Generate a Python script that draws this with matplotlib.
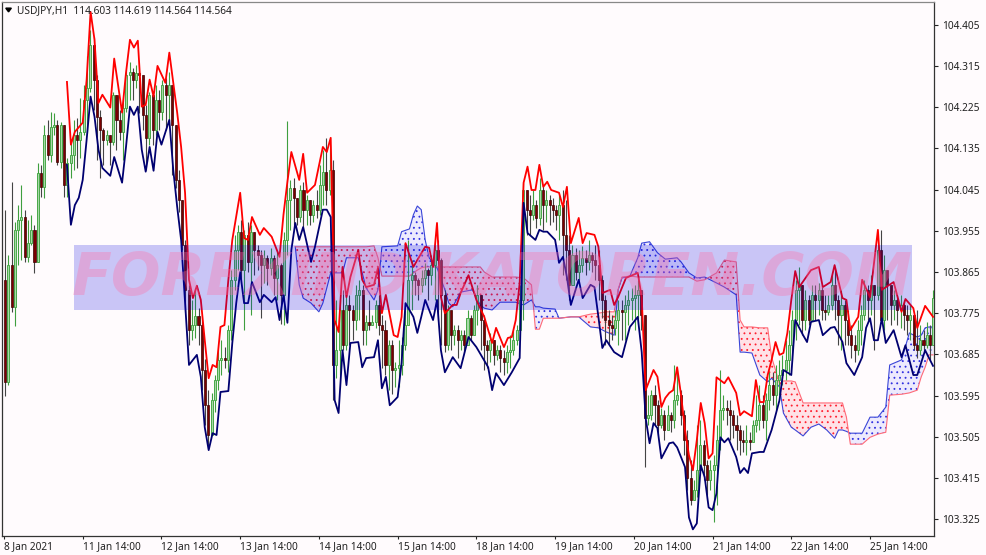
import numpy as np
import matplotlib
matplotlib.use('Agg')
import matplotlib.pyplot as plt

# chart data, H1 candles (open of a bar = close of the bar before)
first_open = 103.848
candle_close = [
    103.625,103.880,103.789,103.957,103.979,103.985,103.898,103.928,103.957,103.887,
    104.081,104.051,104.165,104.121,104.182,104.186,104.106,104.186,104.055,104.103,
    104.121,104.165,104.154,104.171,104.241,104.267,104.361,104.285,104.204,104.175,
    104.154,104.165,104.149,104.252,104.197,104.171,104.224,104.296,104.302,104.285,
    104.300,104.296,104.208,104.158,104.252,104.175,104.241,104.215,104.274,104.252,
    104.274,104.186,104.066,104.022,103.924,103.826,103.738,103.749,103.769,103.749,
    103.651,103.574,103.509,103.585,103.629,103.673,103.677,103.673,103.738,103.848,
    103.913,103.953,103.869,103.946,103.887,103.953,103.913,103.902,103.880,103.896,
    103.874,103.896,103.852,103.880,103.815,103.935,104.022,104.049,104.027,103.985,
    104.044,104.001,104.022,103.990,104.011,104.001,104.055,104.084,104.044,104.088,
    103.662,103.694,103.782,103.705,103.793,103.782,103.760,103.815,103.826,103.738,
    103.756,103.749,103.756,103.793,103.749,103.738,103.662,103.705,103.651,103.655,
    103.662,103.705,103.749,103.848,103.858,103.848,103.837,103.852,103.869,103.858,
    103.880,103.913,103.891,103.815,103.705,103.782,103.727,103.738,103.716,103.727,
    103.705,103.764,103.727,103.782,103.815,103.760,103.705,103.694,103.716,103.684,
    103.694,103.677,103.668,103.690,103.694,103.716,103.738,103.804,104.044,104.001,
    103.990,104.011,103.983,104.044,104.011,104.022,104.011,104.001,103.990,104.011,
    103.946,103.913,103.837,103.902,103.865,103.880,103.896,103.887,103.902,103.891,
    103.880,103.848,103.804,103.760,103.749,103.743,103.760,103.782,103.778,103.793,
    103.804,103.808,103.815,103.826,103.771,103.546,103.552,103.596,103.574,103.531,
    103.552,103.520,103.552,103.541,103.585,103.596,103.552,103.498,103.415,103.367,
    103.389,103.432,103.487,103.443,103.410,103.432,103.443,103.498,103.563,103.568,
    103.563,103.552,103.531,103.520,103.498,103.493,103.498,103.493,103.531,103.541,
    103.574,103.541,103.585,103.618,103.596,103.629,103.640,103.651,103.673,103.705,
    103.760,103.826,103.837,103.760,103.804,103.760,103.815,103.804,103.826,103.782,
    103.778,103.793,103.837,103.804,103.771,103.793,103.760,103.727,103.705,103.694,
    103.738,103.771,103.826,103.804,103.837,103.815,103.913,103.760,103.869,103.837,
    103.793,103.804,103.782,103.793,103.771,103.760,103.771,103.705,103.694,103.716,
    103.705,103.727,103.705,103.808]
candle_high = [
    104.001,103.902,104.062,103.974,104.011,104.055,104.001,103.979,103.990,103.968,
    104.103,104.099,104.186,104.197,104.215,104.213,104.197,104.193,104.186,104.114,
    104.154,104.197,104.202,104.245,104.274,104.337,104.394,104.379,104.296,104.219,
    104.180,104.176,104.165,104.259,104.252,104.219,104.241,104.307,104.324,104.311,
    104.318,104.302,104.296,104.230,104.259,104.252,104.274,104.263,104.285,104.289,
    104.302,104.274,104.186,104.088,104.022,103.935,103.837,103.804,103.830,103.786,
    103.760,103.675,103.607,103.601,103.640,103.694,103.716,103.701,103.749,103.870,
    103.946,103.968,103.979,103.957,103.974,103.968,103.953,103.924,103.913,103.913,
    103.902,103.917,103.902,103.913,103.885,103.953,104.195,104.066,104.071,104.027,
    104.055,104.062,104.033,104.022,104.022,104.044,104.099,104.132,104.158,104.143,
    104.110,103.804,103.804,103.826,103.815,103.815,103.793,103.837,103.848,103.837,
    103.771,103.804,103.771,103.804,103.815,103.771,103.760,103.716,103.716,103.668,
    103.716,103.723,103.782,103.935,103.891,103.865,103.852,103.869,103.885,103.874,
    103.902,103.924,103.935,103.896,103.826,103.793,103.760,103.749,103.749,103.738,
    103.738,103.782,103.771,103.793,103.837,103.815,103.771,103.716,103.732,103.716,
    103.705,103.705,103.694,103.705,103.727,103.738,103.749,103.837,104.060,104.044,
    104.033,104.044,104.022,104.071,104.055,104.044,104.033,104.027,104.011,104.033,
    104.044,104.022,103.946,103.924,103.917,103.913,103.922,103.913,103.935,103.909,
    103.924,103.913,103.858,103.815,103.782,103.771,103.782,103.804,103.804,103.815,
    103.826,103.830,103.837,103.848,103.826,103.771,103.596,103.607,103.618,103.585,
    103.568,103.563,103.574,103.559,103.662,103.651,103.607,103.563,103.520,103.454,
    103.411,103.531,103.541,103.498,103.454,103.454,103.465,103.531,103.651,103.596,
    103.585,103.585,103.563,103.552,103.531,103.520,103.531,103.515,103.541,103.596,
    103.618,103.596,103.601,103.647,103.646,103.662,103.673,103.684,103.716,103.738,
    103.782,103.848,103.876,103.837,103.826,103.815,103.837,103.837,103.841,103.837,
    103.815,103.815,103.858,103.871,103.815,103.826,103.804,103.782,103.749,103.727,
    103.760,103.793,103.848,103.837,103.858,103.837,103.924,103.957,103.902,103.858,
    103.826,103.826,103.815,103.815,103.804,103.793,103.793,103.760,103.782,103.749,
    103.738,103.756,103.749,103.826]
candle_low = [
    103.594,103.618,103.778,103.747,103.880,103.891,103.887,103.887,103.924,103.863,
    103.887,104.029,104.027,104.110,104.106,104.165,104.099,104.092,104.029,104.029,
    104.071,104.088,104.092,104.114,104.165,104.169,104.259,104.219,104.110,104.071,
    104.099,104.143,104.099,104.143,104.132,104.154,104.110,104.215,104.241,104.241,
    104.267,104.213,104.175,104.088,104.143,104.143,104.165,104.175,104.197,104.175,
    104.197,104.077,104.049,103.996,103.913,103.778,103.705,103.716,103.721,103.705,
    103.607,103.531,103.480,103.520,103.559,103.607,103.640,103.655,103.646,103.716,
    103.826,103.870,103.841,103.738,103.865,103.771,103.858,103.869,103.764,103.841,
    103.837,103.858,103.815,103.804,103.751,103.749,103.902,103.957,103.968,103.968,
    103.974,103.957,103.968,103.968,103.974,103.983,103.990,104.011,104.011,104.033,
    103.585,103.633,103.640,103.694,103.694,103.705,103.716,103.738,103.760,103.705,
    103.705,103.738,103.749,103.743,103.727,103.655,103.640,103.607,103.598,103.613,
    103.613,103.640,103.694,103.760,103.782,103.815,103.804,103.821,103.837,103.804,
    103.837,103.804,103.760,103.705,103.690,103.694,103.694,103.705,103.677,103.694,
    103.690,103.705,103.716,103.727,103.749,103.694,103.651,103.655,103.668,103.662,
    103.673,103.646,103.640,103.644,103.655,103.684,103.705,103.716,103.760,103.946,
    103.946,103.979,103.961,103.968,103.957,103.974,103.968,103.974,103.957,103.935,
    103.858,103.848,103.804,103.843,103.848,103.848,103.865,103.858,103.869,103.865,
    103.848,103.804,103.764,103.705,103.705,103.716,103.727,103.705,103.716,103.716,
    103.749,103.760,103.738,103.751,103.738,103.439,103.531,103.541,103.531,103.509,
    103.524,103.498,103.520,103.515,103.524,103.574,103.531,103.465,103.389,103.356,
    103.367,103.373,103.421,103.410,103.378,103.389,103.319,103.356,103.476,103.541,
    103.531,103.498,103.502,103.476,103.465,103.472,103.465,103.476,103.498,103.515,
    103.520,103.524,103.498,103.563,103.574,103.563,103.596,103.618,103.629,103.640,
    103.673,103.716,103.749,103.727,103.738,103.749,103.760,103.760,103.771,103.760,
    103.760,103.771,103.782,103.760,103.705,103.694,103.705,103.705,103.677,103.668,
    103.684,103.705,103.760,103.760,103.771,103.694,103.804,103.754,103.738,103.760,
    103.749,103.760,103.749,103.743,103.738,103.727,103.716,103.694,103.677,103.684,
    103.694,103.699,103.673,103.782]

# band lines were read on a coarser grid: 5 slots = 6 bars
upper_slot = [
    16,17,18,20,21,22,23,24,25,27, 28,30,31,32,33,34,35,36,37,38,
    39,41,42,44,45,46,47,48,49,50, 51,52,53,54,55,56,57,58,60,61,
    62,63,65,66,68,70,71,72,73,75, 76,77,79,81,82,83,84,85,86,87,
    88,90,91,92,94,95,96,97,99,100, 101,102,104,105,107,108,109,110,111,112,
    114,115,116,118,120,122,124,125,127,128, 129,130,131,132,133,134,135,136,137,138,
    139,141,142,143,144,146,147,148,150,151, 152,154,155,156,158,161,162,163,164,165,
    166,167,168,169,170,171,172,173,174,175, 176,177,178,179,180,181,183,184,186,187,
    188,190,191,192,193,194,195,196,197,198, 199,200,201,202,205,207,208,210,211,213,
    214,215,217,218,220,222,223,226,228,229, 231,232,234,236]
upper_price = [
    104.280,104.143,104.171,104.191,104.285,104.433,104.372,104.234,104.252,104.224,
    104.331,104.213,104.300,104.372,104.355,104.370,104.226,104.230,104.285,104.248,
    104.315,104.278,104.344,104.213,104.138,104.038,103.848,103.808,103.835,103.804,
    103.716,103.633,103.662,103.657,103.745,103.749,103.848,103.935,104.038,103.939,
    103.935,103.985,103.946,103.961,103.942,103.898,103.990,104.062,104.127,104.066,
    104.123,104.038,104.055,104.138,104.127,104.158,103.760,103.734,103.876,103.810,
    103.854,103.913,103.848,103.832,103.837,103.874,103.775,103.815,103.727,103.723,
    103.767,103.928,103.876,103.891,103.920,103.918,103.876,103.972,103.810,103.775,
    103.793,103.793,103.819,103.858,103.804,103.767,103.710,103.743,103.701,103.721,
    103.723,103.760,103.841,104.060,104.095,104.044,104.044,104.099,104.051,104.062,
    104.044,104.038,104.007,104.051,103.928,103.983,103.928,103.950,103.946,103.920,
    103.819,103.826,103.793,103.810,103.852,103.863,103.810,103.607,103.629,103.651,
    103.636,103.570,103.590,103.601,103.607,103.657,103.596,103.520,103.465,103.432,
    103.498,103.579,103.535,103.458,103.469,103.635,103.622,103.635,103.601,103.552,
    103.561,103.550,103.629,103.581,103.581,103.640,103.673,103.712,103.684,103.688,
    103.732,103.804,103.867,103.832,103.869,103.876,103.832,103.843,103.880,103.808,
    103.804,103.738,103.767,103.848,103.810,103.957,103.826,103.843,103.778,103.806,
    103.786,103.743,103.791,103.767]
lower_slot = [
    16,17,18,19,20,21,22,23,24,25, 27,28,30,31,32,33,34,35,36,37,
    38,39,40,42,43,44,45,46,47,49, 50,51,52,53,54,55,57,58,59,60,
    61,62,63,65,66,68,69,70,71,72, 73,74,75,76,78,79,81,82,83,84,
    85,86,87,88,90,91,92,94,95,96, 97,98,100,101,102,104,105,106,107,109,
    110,111,112,114,116,118,120,123,124,125, 127,129,131,132,133,135,136,137,138,140,
    141,142,143,144,146,147,149,150,151,152, 153,155,157,159,161,162,163,164,165,166,
    167,169,170,171,173,174,175,176,177,178, 179,180,181,182,183,184,186,187,188,189,
    190,192,193,195,197,198,200,201,203,204, 205,207,208,210,211,213,214,216,218,219,
    220,221,222,223,224,226,228,229,231,232, 234,236]
lower_price = [
    104.099,103.968,104.011,104.027,104.066,104.154,104.248,104.204,104.132,104.092,
    104.075,104.116,104.060,104.138,104.226,104.208,104.226,104.132,104.084,104.138,
    104.086,104.171,104.143,104.197,104.088,104.007,103.935,103.797,103.662,103.684,
    103.636,103.526,103.476,103.513,103.509,103.603,103.605,103.710,103.797,103.865,
    103.797,103.797,103.843,103.799,103.815,103.799,103.810,103.760,103.815,103.754,
    103.913,103.972,103.935,103.963,103.887,103.920,104.001,104.001,103.985,103.585,
    103.557,103.694,103.618,103.710,103.712,103.657,103.677,103.679,103.716,103.611,
    103.636,103.574,103.592,103.666,103.797,103.767,103.732,103.767,103.804,103.760,
    103.804,103.694,103.646,103.679,103.655,103.723,103.701,103.657,103.607,103.644,
    103.618,103.646,103.677,104.016,103.950,103.935,103.957,103.953,103.953,103.935,
    103.885,103.898,103.854,103.793,103.848,103.808,103.837,103.832,103.767,103.699,
    103.716,103.690,103.679,103.745,103.767,103.690,103.546,103.491,103.535,103.524,
    103.458,103.491,103.493,103.482,103.439,103.329,103.303,103.316,103.443,103.417,
    103.351,103.345,103.382,103.504,103.493,103.502,103.461,103.426,103.437,103.426,
    103.469,103.472,103.472,103.520,103.585,103.651,103.640,103.760,103.727,103.712,
    103.756,103.760,103.727,103.743,103.745,103.712,103.666,103.640,103.679,103.743,
    103.764,103.716,103.716,103.764,103.710,103.738,103.679,103.705,103.640,103.640,
    103.694,103.660]
cloud_slot = [
    74,75,76,78,80,81,83,86,87,90, 92,94,95,96,100,101,103,104,105,106,
    107,108,110,112,113,114,116,119,121,122, 124,126,130,132,134,135,136,137,140,141,
    144,146,149,151,153,155,156,157,159,161, 162,164,166,168,171,172,174,176,178,181,
    183,186,187,188,190,192,194,195,197,198, 200,201,203,205,207,209,211,212,213,214,
    215,218,220,222,224,225,228,230,232,233, 234,235,236]
span_a = [
    103.920,103.837,103.808,103.797,103.778,103.797,103.863,103.863,103.896,103.896,
    103.830,103.804,103.826,103.920,103.922,103.953,103.959,103.990,104.009,104.001,
    103.935,103.896,103.874,103.826,103.797,103.789,103.821,103.826,103.793,103.786,
    103.782,103.799,103.799,103.793,103.804,103.789,103.789,103.786,103.784,103.764,
    103.767,103.767,103.745,103.743,103.734,103.727,103.826,103.852,103.856,103.896,
    103.928,103.931,103.907,103.893,103.896,103.887,103.863,103.852,103.854,103.841,
    103.832,103.815,103.690,103.690,103.688,103.640,103.625,103.633,103.614,103.557,
    103.526,103.520,103.507,103.526,103.533,103.520,103.502,103.520,103.520,103.517,
    103.513,103.513,103.548,103.548,103.570,103.662,103.673,103.732,103.723,103.727,
    103.743,103.745,103.745]
span_b = [
    103.920,103.920,103.920,103.920,103.920,103.920,103.920,103.920,103.920,103.920,
    103.920,103.922,103.896,103.856,103.856,103.856,103.856,103.863,103.869,103.874,
    103.876,103.876,103.876,103.876,103.876,103.876,103.876,103.876,103.876,103.865,
    103.854,103.854,103.854,103.852,103.837,103.740,103.740,103.764,103.764,103.764,
    103.767,103.767,103.773,103.775,103.778,103.778,103.826,103.854,103.856,103.854,
    103.854,103.854,103.854,103.854,103.854,103.854,103.854,103.845,103.848,103.863,
    103.891,103.887,103.760,103.745,103.745,103.743,103.743,103.679,103.622,103.627,
    103.627,103.625,103.579,103.579,103.579,103.579,103.579,103.579,103.579,103.548,
    103.489,103.489,103.504,103.511,103.515,103.596,103.598,103.601,103.607,103.636,
    103.657,103.684,103.684]

y_ticks = [103.325,103.415,103.505,103.595,103.685,103.775,103.865,103.955,104.045,104.135,104.225,104.315,104.405]
x_tick_bars = [0,24,48,72,96,120,144,168,192,216,240,264]
x_tick_labels = ['8 Jan 2021','11 Jan 14:00','12 Jan 14:00','13 Jan 14:00','14 Jan 14:00','15 Jan 14:00',
                 '18 Jan 14:00','19 Jan 14:00','20 Jan 14:00','21 Jan 14:00','22 Jan 14:00','25 Jan 14:00']
header = 'USDJPY,H1  114.603 114.619 114.564 114.564'
watermark = 'FOREXINDIKATOREN.COM'

bg = '#fffbfd'
font = 'Noto Sans'
W, H = 987, 555
plt.rcParams['hatch.linewidth'] = 0.6

fig = plt.figure(figsize=(W/100, H/100), dpi=100, facecolor=bg)
ax = fig.add_axes([2.5/W, (H-536)/H, (934-2.5)/W, (536-2)/H], facecolor=bg)

# price <-> pixel: 104.405 at y=25, 103.325 at y=519
ax.set_ylim(103.2885, 104.4545)
ax.set_xlim(-0.75, 283.2)

close = np.array(candle_close)
high = np.array(candle_high)
low = np.array(candle_low)
opens = np.r_[first_open, close[:-1]]
bars = np.arange(len(close))
up = close >= opens

# cloud: tint plus dots
cx = np.array(cloud_slot)*1.2 - 0.3
a = np.array(span_a)
b = np.array(span_b)
ax.fill_between(cx, a, b, where=a >= b, interpolate=True, color='#c4c4ff', alpha=0.3, linewidth=0, zorder=2)
ax.fill_between(cx, a, b, where=a <= b, interpolate=True, color='#ffb4c0', alpha=0.35, linewidth=0, zorder=2)
ax.fill_between(cx, a, b, where=a >= b, interpolate=True, facecolor='none', edgecolor='#3030e0',
                hatch='...', linewidth=0, zorder=2)
ax.fill_between(cx, a, b, where=a <= b, interpolate=True, facecolor='none', edgecolor='#ff2030',
                hatch='...', linewidth=0, zorder=2)
ax.plot(cx, a, color='#3a46d8', lw=0.8, zorder=3)
ax.plot(cx, b, color='#ff6a78', lw=0.8, zorder=3)

# candles
ax.vlines(bars[up], low[up], high[up], color='#3f9f3f', lw=0.8, zorder=4)
ax.vlines(bars[~up], low[~up], high[~up], color='#444444', lw=0.8, zorder=4)
ax.bar(bars[up], (close-opens)[up], bottom=opens[up], width=0.62, facecolor='#a8d8a8',
       edgecolor='#48a848', linewidth=0.7, zorder=5)
ax.bar(bars[~up], (opens-close)[~up], bottom=close[~up], width=0.62, facecolor='#7a0000',
       edgecolor='#3a0000', linewidth=0.5, zorder=5)

# bands
ax.plot(np.array(upper_slot)*1.2-0.3, upper_price, color='#ff0000', lw=1.3, zorder=6)
ax.plot(np.array(lower_slot)*1.2-0.3, lower_price, color='#000070', lw=1.3, zorder=6)

# blue box over everything, watermark text on the box
ax.axhspan(103.782, 103.924, xmin=(74-2.5)/931.5, xmax=(912-2.5)/931.5,
           facecolor='#0000e0', alpha=0.21, linewidth=0, zorder=8)
ax.text((492.5-2.5)/931.5, (536-278)/534, watermark, transform=ax.transAxes,
        ha='center', va='center', family='DejaVu Sans', weight='bold', style='oblique',
        fontsize=42, color='#ff70a8', alpha=0.35, zorder=8.5)

# axes, MT4 style
ax.yaxis.tick_right()
ax.set_yticks(y_ticks)
ax.set_yticklabels(['%.3f' % v for v in y_ticks], fontsize=7.3, family=font, color='#222222')
ax.tick_params(axis='y', length=3, width=0.8, pad=3, color='#222222')
ax.set_xticks([t-0.3 for t in x_tick_bars])
ax.set_xticklabels(x_tick_labels, fontsize=7.3, family=font, color='#222222', ha='left')
ax.tick_params(axis='x', length=2.5, width=0.8, pad=1.5, color='#222222')
for sp in ax.spines.values():
    sp.set_linewidth(0.9)
    sp.set_color('#333333')
ax.spines['top'].set_color('#888888')

# header, top-left
ax.fill([0.0035, 0.0095, 0.0065], [0.9885, 0.9885, 0.9815], transform=ax.transAxes, color='black', zorder=9)
ax.text(15/931.5, 0.9845, header, transform=ax.transAxes, fontsize=7.3, family=font, color='#222222',
        ha='left', va='center', zorder=9)

fig.savefig('out.png', dpi=100, facecolor=bg)
